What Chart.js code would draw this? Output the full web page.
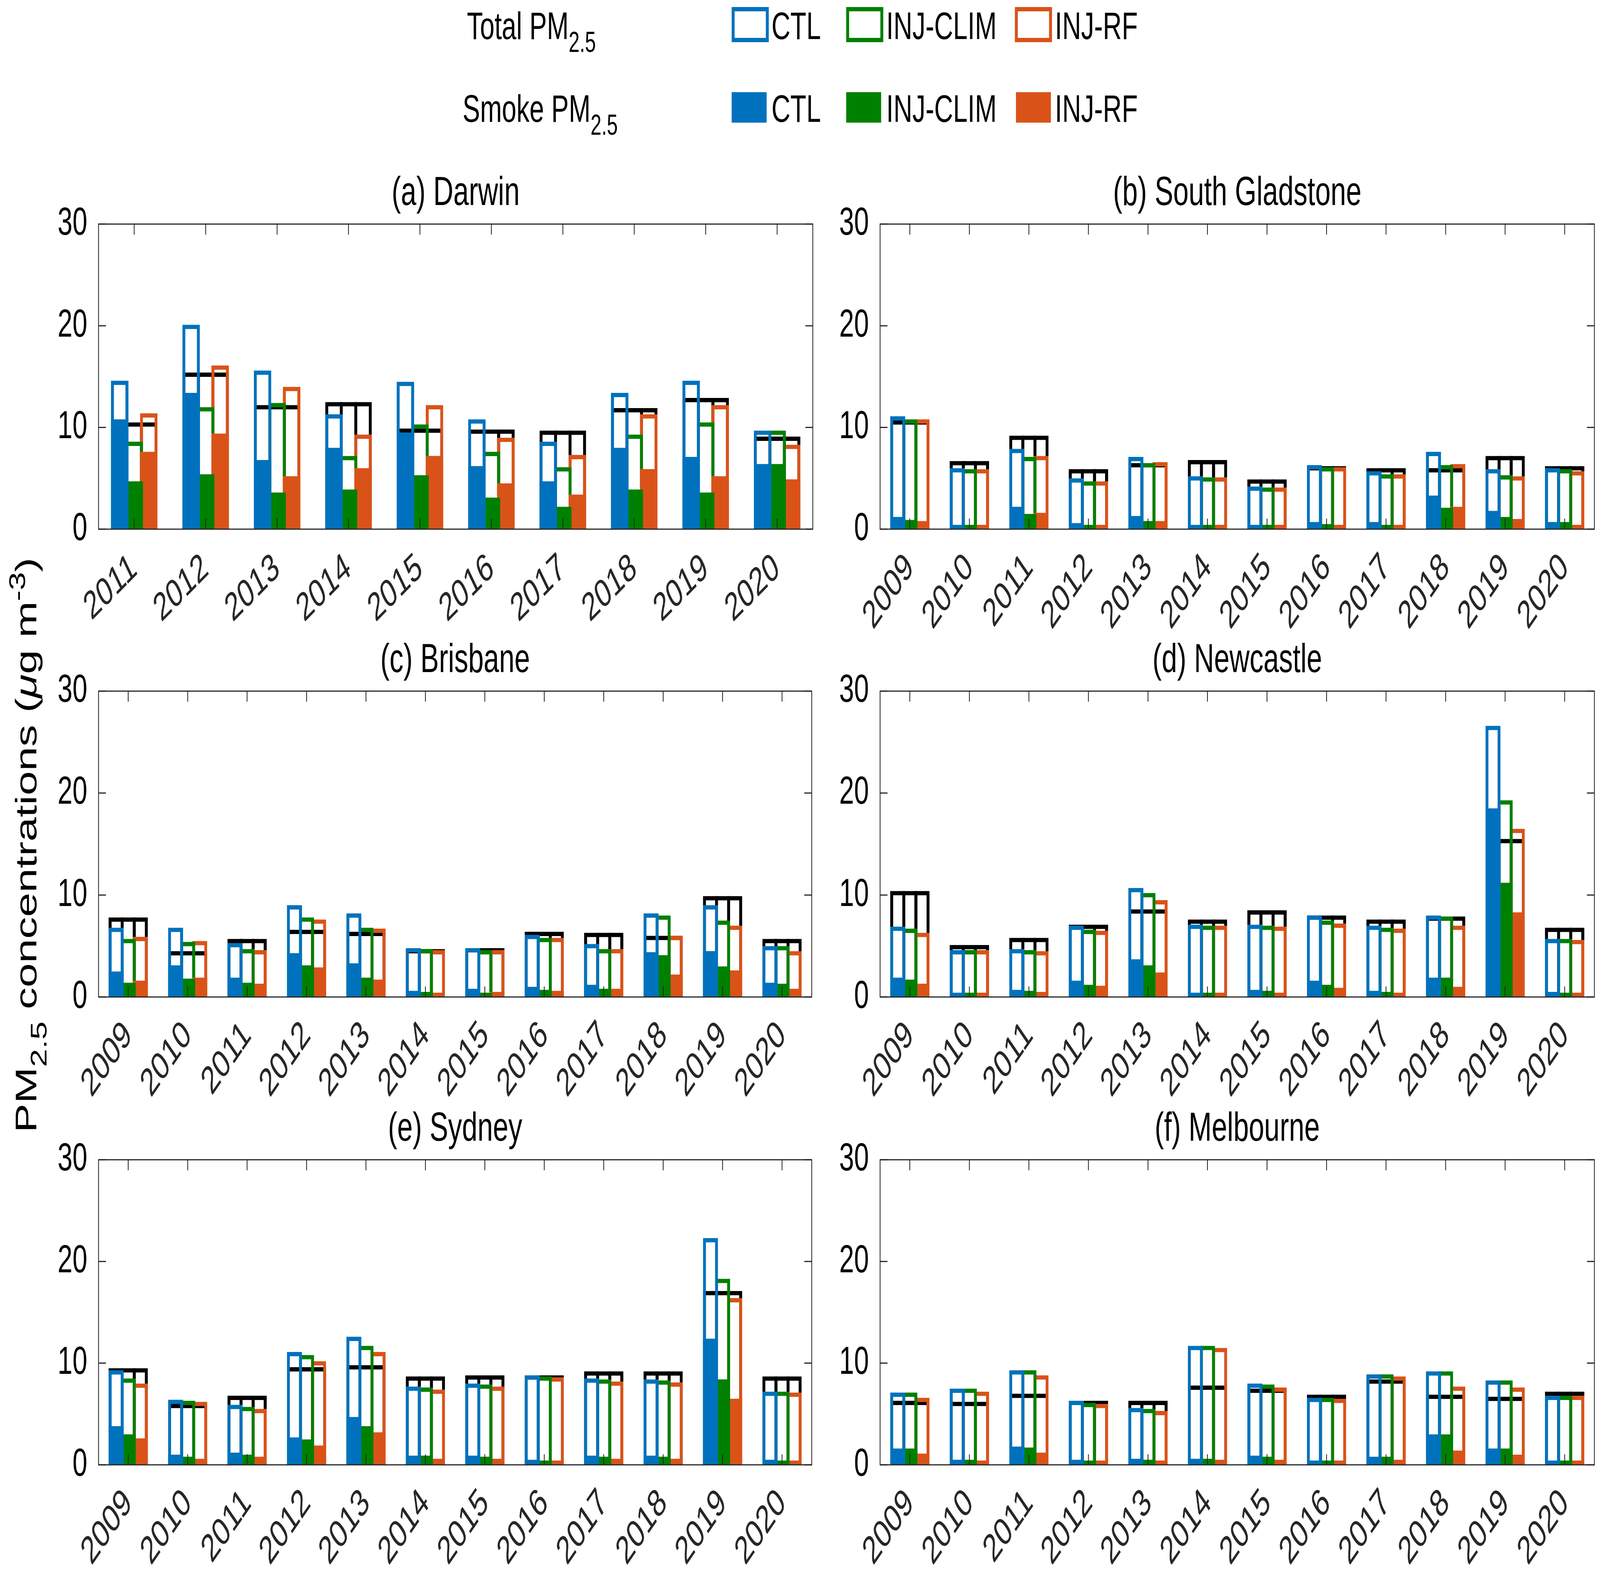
<!DOCTYPE html>
<html lang="en">
<head>
<meta charset="UTF-8">
<title>PM2.5 concentrations</title>
<script src="https://cdn.jsdelivr.net/npm/chart.js"></script>
<style>
  html, body { margin: 0; padding: 0; background: #fff; width: 100%; height: 100%; overflow: hidden; }
  body { font-family: 'Liberation Sans', Arial, sans-serif; color: #000; }
  #fig {
    position: absolute; left: 0; top: 0; width: 5994px; height: 4028px;
    transform-origin: 0 0; background: #fff;
  }
  .panel { position: absolute; }
  .lg-text { position: absolute; font-size: 98px; line-height: 98px; white-space: nowrap; }
  .sw { position: absolute; box-sizing: border-box; }
  .lo { width: 139px; height: 90px; border: 11px solid; background: #fff; }
  .lf { width: 131px; height: 78px; }
  .sub { font-size: 0.75em; position: relative; top: 0.45em; }
  .sup { font-size: 0.75em; position: relative; top: -0.5em; }
  #ylabel {
    position: absolute; left: 98px; top: 2164px; font-size: 112px; line-height: 1.2;
    white-space: nowrap; transform: translate(-50%, -50%) rotate(-90deg);
  }
</style>
</head>
<body>
<div id="fig">

<!-- Legend -->
<div class="lg-text" style="left:1749px; top:17px;">Total PM<span class="sub">2.5</span></div>
<div class="sw lo" style="left:2741px; top:18px; border-color:#0072BD;"></div>
<div class="lg-text" style="left:2890px; top:17px;">CTL</div>
<div class="sw lo" style="left:3170px; top:18px; border-color:#008000;"></div>
<div class="lg-text" style="left:3320px; top:17px;">INJ-CLIM</div>
<div class="sw lo" style="left:3802px; top:18px; border-color:#D95319;"></div>
<div class="lg-text" style="left:3952px; top:17px;">INJ-RF</div>

<div class="lg-text" style="left:1733px; top:229px;">Smoke PM<span class="sub">2.5</span></div>
<div class="sw lf" style="left:2741px; top:236px; background:#0072BD;"></div>
<div class="lg-text" style="left:2890px; top:229px;">CTL</div>
<div class="sw lf" style="left:3170px; top:236px; background:#008000;"></div>
<div class="lg-text" style="left:3320px; top:229px;">INJ-CLIM</div>
<div class="sw lf" style="left:3806px; top:236px; background:#D95319;"></div>
<div class="lg-text" style="left:3952px; top:229px;">INJ-RF</div>

<div id="ylabel">PM<span class="sub">2.5</span> concentrations (<i>μ</i>g m<span class="sup">-3</span>)</div>

</div>

<script>
// ---- data (annual mean PM2.5, ug m-3) ----
const yearsDarwin = ['2011', '2012', '2013', '2014', '2015', '2016', '2017', '2018', '2019', '2020'];
const yearsOther = ['2009', '2010', '2011', '2012', '2013', '2014', '2015', '2016', '2017', '2018', '2019', '2020'];

// (a) Darwin
const darwinObs      = [10.5, 15.4, 12.2, 12.5, 9.9, 9.8, 9.7, 11.9, 12.9, 9.1];
const darwinTotCtl   = [14.6, 20.1, 15.6, 11.3, 14.5, 10.8, 8.6, 13.4, 14.6, 9.7];
const darwinTotClim  = [8.6, 12.0, 12.4, 7.2, 10.3, 7.6, 6.1, 9.3, 10.5, 9.7];
const darwinTotRf    = [11.4, 16.1, 14.0, 9.3, 12.2, 9.0, 7.3, 11.3, 12.2, 8.3];
const darwinSmkCtl   = [10.8, 13.4, 6.8, 8.0, 9.5, 6.2, 4.7, 8.0, 7.1, 6.4];
const darwinSmkClim  = [4.7, 5.4, 3.6, 3.9, 5.3, 3.1, 2.2, 3.9, 3.6, 6.4];
const darwinSmkRf    = [7.6, 9.4, 5.2, 6.0, 7.2, 4.5, 3.4, 5.9, 5.2, 4.9];

// (b) South Gladstone
const gladObs     = [10.7, 6.7, 9.2, 5.9, 6.5, 6.8, 4.9, 6.2, 6.0, 6.0, 7.2, 6.2];
const gladTotCtl  = [11.1, 6.0, 7.9, 5.0, 7.1, 5.2, 4.2, 6.3, 5.7, 7.6, 5.9, 6.0];
const gladTotClim = [10.8, 5.9, 7.1, 4.7, 6.5, 5.1, 4.1, 6.1, 5.4, 6.3, 5.3, 5.9];
const gladTotRf   = [10.8, 5.9, 7.2, 4.7, 6.6, 5.1, 4.1, 6.1, 5.4, 6.4, 5.2, 5.7];
const gladSmkCtl  = [1.2, 0.2, 2.2, 0.6, 1.3, 0.2, 0.2, 0.7, 0.7, 3.3, 1.8, 0.7];
const gladSmkClim = [0.9, 0.3, 1.5, 0.4, 0.8, 0.2, 0.2, 0.5, 0.4, 2.1, 1.2, 0.7];
const gladSmkRf   = [0.8, 0.2, 1.6, 0.4, 0.8, 0.2, 0.2, 0.4, 0.4, 2.2, 1.0, 0.4];

// (c) Brisbane
const brisObs     = [7.8, 4.5, 5.7, 6.6, 6.4, 4.7, 4.8, 6.4, 6.3, 6.0, 9.9, 5.7];
const brisTotCtl  = [6.8, 6.8, 5.3, 9.0, 8.2, 4.8, 4.8, 6.1, 5.2, 8.2, 9.0, 5.0];
const brisTotClim = [5.7, 5.4, 4.7, 7.8, 6.8, 4.7, 4.6, 5.8, 4.7, 8.0, 7.5, 5.0];
const brisTotRf   = [5.9, 5.5, 4.6, 7.6, 6.7, 4.6, 4.6, 5.8, 4.7, 6.0, 7.0, 4.5];
const brisSmkCtl  = [2.5, 3.1, 1.9, 4.3, 3.3, 0.6, 0.8, 1.0, 1.2, 4.4, 4.5, 1.4];
const brisSmkClim = [1.4, 1.8, 1.4, 3.1, 1.9, 0.5, 0.4, 0.7, 0.8, 4.1, 3.0, 1.3];
const brisSmkRf   = [1.6, 1.9, 1.3, 2.9, 1.7, 0.4, 0.5, 0.6, 0.8, 2.2, 2.6, 0.8];

// (d) Newcastle
const newcObs     = [10.4, 5.1, 5.8, 7.1, 8.6, 7.6, 8.5, 8.0, 7.6, 7.9, 15.5, 6.8];
const newcTotCtl  = [6.9, 4.6, 4.7, 7.0, 10.7, 7.1, 7.1, 8.0, 7.0, 8.0, 26.6, 5.7];
const newcTotClim = [6.7, 4.6, 4.6, 6.6, 10.2, 7.0, 7.0, 7.5, 6.8, 7.9, 19.3, 5.7];
const newcTotRf   = [6.3, 4.6, 4.5, 6.5, 9.5, 7.0, 6.9, 7.2, 6.7, 7.0, 16.5, 5.6];
const newcSmkCtl  = [1.9, 0.3, 0.7, 1.6, 3.7, 0.4, 0.7, 1.6, 0.6, 1.9, 18.5, 0.5];
const newcSmkClim = [1.7, 0.3, 0.6, 1.2, 3.1, 0.3, 0.6, 1.2, 0.5, 1.9, 11.2, 0.4];
const newcSmkRf   = [1.3, 0.3, 0.5, 1.1, 2.4, 0.3, 0.4, 0.9, 0.4, 1.0, 8.3, 0.4];

// (e) Sydney
const sydObs     = [9.5, 6.0, 6.8, 9.6, 9.8, 8.7, 8.8, 8.8, 9.2, 9.2, 17.1, 8.7];
const sydTotCtl  = [9.3, 6.4, 5.9, 11.1, 12.6, 7.7, 8.0, 8.8, 8.5, 8.4, 22.3, 7.2];
const sydTotClim = [8.5, 6.3, 5.7, 10.8, 11.7, 7.6, 7.9, 8.7, 8.4, 8.3, 18.3, 7.2];
const sydTotRf   = [8.0, 6.2, 5.5, 10.2, 11.1, 7.4, 7.7, 8.6, 8.2, 8.1, 16.4, 7.1];
const sydSmkCtl  = [3.8, 1.0, 1.2, 2.7, 4.7, 0.9, 0.9, 0.5, 0.9, 0.9, 12.4, 0.5];
const sydSmkClim = [3.0, 0.8, 1.0, 2.5, 3.8, 0.9, 0.8, 0.4, 0.8, 0.8, 8.4, 0.4];
const sydSmkRf   = [2.6, 0.6, 0.8, 1.9, 3.2, 0.6, 0.6, 0.3, 0.6, 0.6, 6.5, 0.3];

// (f) Melbourne
const melbObs     = [6.3, 6.2, 7.0, 6.3, 6.3, 7.8, 7.5, 6.9, 8.4, 6.9, 6.7, 7.2];
const melbTotCtl  = [7.1, 7.5, 9.3, 6.3, 5.6, 11.7, 8.0, 6.6, 8.9, 9.2, 8.3, 6.8];
const melbTotClim = [7.1, 7.5, 9.3, 6.1, 5.5, 11.7, 7.9, 6.6, 8.9, 9.2, 8.3, 6.8];
const melbTotRf   = [6.6, 7.2, 8.8, 6.0, 5.3, 11.5, 7.6, 6.5, 8.7, 7.7, 7.6, 6.8];
const melbSmkCtl  = [1.6, 0.5, 1.8, 0.5, 0.6, 0.6, 0.9, 0.3, 0.8, 3.0, 1.6, 0.2];
const melbSmkClim = [1.6, 0.5, 1.7, 0.4, 0.5, 0.6, 0.8, 0.3, 0.8, 3.0, 1.6, 0.2];
const melbSmkRf   = [1.1, 0.3, 1.2, 0.3, 0.4, 0.5, 0.5, 0.2, 0.5, 1.4, 1.0, 0.2];

// ---- styling / layout ----
const BLUE = '#0072BD', GREEN = '#008000', ORANGE = '#D95319';
const FONT = "'Liberation Sans', Arial, sans-serif";
const LW = 11;          // bar edge width
const CAT_PCT = 0.61;   // share of each year slot used by the 3 bars
const YW = 250, TH = 140, XH = 270, RP = 10;
const FIG_W = 5994, FIG_H = 4028;

const panels = [
    { title: '(a) Darwin', years: yearsDarwin, obs: darwinObs,
      tot: [darwinTotCtl, darwinTotClim, darwinTotRf], smk: [darwinSmkCtl, darwinSmkClim, darwinSmkRf],
      L: 369, T: 574, W: 2676, H: 781, rot: 35 },
    { title: '(b) South Gladstone', years: yearsOther, obs: gladObs,
      tot: [gladTotCtl, gladTotClim, gladTotRf], smk: [gladSmkCtl, gladSmkClim, gladSmkRf],
      L: 3297, T: 574, W: 2680, H: 781, rot: 45 },
    { title: '(c) Brisbane', years: yearsOther, obs: brisObs,
      tot: [brisTotCtl, brisTotClim, brisTotRf], smk: [brisSmkCtl, brisSmkClim, brisSmkRf],
      L: 369, T: 1770, W: 2676, H: 783, rot: 45 },
    { title: '(d) Newcastle', years: yearsOther, obs: newcObs,
      tot: [newcTotCtl, newcTotClim, newcTotRf], smk: [newcSmkCtl, newcSmkClim, newcSmkRf],
      L: 3297, T: 1770, W: 2680, H: 783, rot: 45 },
    { title: '(e) Sydney', years: yearsOther, obs: sydObs,
      tot: [sydTotCtl, sydTotClim, sydTotRf], smk: [sydSmkCtl, sydSmkClim, sydSmkRf],
      L: 369, T: 2970, W: 2676, H: 781, rot: 45 },
    { title: '(f) Melbourne', years: yearsOther, obs: melbObs,
      tot: [melbTotCtl, melbTotClim, melbTotRf], smk: [melbSmkCtl, melbSmkClim, melbSmkRf],
      L: 3297, T: 2970, W: 2680, H: 781, rot: 45 },
];

// box around the axes with inward ticks, drawn over the bars like MATLAB does
const framePlugin = {
    id: 'frame',
    afterDatasetsDraw(chart) {
        const { ctx, chartArea: a, scales: { x, y } } = chart;
        ctx.save();
        ctx.strokeStyle = '#262626';
        ctx.lineWidth = 3;
        ctx.strokeRect(a.left, a.top, a.right - a.left, a.bottom - a.top);
        ctx.beginPath();
        x.ticks.forEach((t, i) => {
            const px = x.getPixelForTick(i);
            ctx.moveTo(px, a.top); ctx.lineTo(px, a.top + 27);
            ctx.moveTo(px, a.bottom); ctx.lineTo(px, a.bottom - 27);
        });
        y.ticks.forEach(t => {
            const py = y.getPixelForValue(t.value);
            ctx.moveTo(a.left, py); ctx.lineTo(a.left + 28, py);
            ctx.moveTo(a.right, py); ctx.lineTo(a.right - 28, py);
        });
        ctx.stroke();
        ctx.restore();
    }
};

const colors = [BLUE, GREEN, ORANGE];
const stacks = ['ctl', 'clim', 'rf'];
const names = ['CTL', 'INJ-CLIM', 'INJ-RF'];
const fig = document.getElementById('fig');

// the window may be smaller than the figure: fit the whole figure into it
function fitFigure() {
    const sx = window.innerWidth / FIG_W;
    const sy = window.innerHeight / FIG_H;
    if (Math.abs(sx - 1) > 0.002 || Math.abs(sy - 1) > 0.002) {
        fig.style.transform = `scale(${sx}, ${sy})`;
    } else {
        fig.style.transform = 'none';
    }
}
fitFigure();

panels.forEach(p => {
    const div = document.createElement('div');
    div.className = 'panel';
    div.style.left = (p.L - YW) + 'px';
    div.style.top = (p.T - TH) + 'px';
    div.style.width = (YW + p.W + RP) + 'px';
    div.style.height = (TH + p.H + XH) + 'px';
    const canvas = document.createElement('canvas');
    div.appendChild(canvas);
    fig.appendChild(div);

    // bars overlap by one edge width so neighbouring edges coincide
    const slot = p.W / p.years.length * CAT_PCT / 3;
    const barPct = (slot + LW) / slot;

    const datasets = [];
    // smoke PM2.5 (filled, on top)
    stacks.forEach((s, i) => datasets.push({
        label: 'Smoke ' + names[i], data: p.smk[i], stack: s, order: 0,
        backgroundColor: colors[i], borderWidth: 0
    }));
    // total PM2.5 (outlined)
    stacks.forEach((s, i) => datasets.push({
        label: 'Total ' + names[i], data: p.tot[i], stack: s, order: 1,
        backgroundColor: 'rgba(0,0,0,0)', borderColor: colors[i],
        borderWidth: LW, borderSkipped: false
    }));
    // observations (black outline behind each bar)
    stacks.forEach(s => datasets.push({
        label: 'Obs', data: p.obs, stack: s, order: 2,
        backgroundColor: 'rgba(0,0,0,0)', borderColor: '#000',
        borderWidth: LW, borderSkipped: false
    }));

    new Chart(canvas, {
        type: 'bar',
        data: { labels: p.years, datasets },
        options: {
            responsive: true,
            maintainAspectRatio: false,
            devicePixelRatio: 1,
            animation: false,
            categoryPercentage: CAT_PCT,
            barPercentage: barPct,
            layout: { padding: { left: 0, right: RP, top: 0, bottom: 0 } },
            plugins: {
                legend: { display: false },
                tooltip: { enabled: false },
                title: {
                    display: true, text: p.title, color: '#000', fullSize: false,
                    font: { family: FONT, size: 104, weight: 'normal' },
                    padding: { top: 0, bottom: 15 }
                }
            },
            scales: {
                x: {
                    type: 'category',
                    offset: true,
                    grid: { display: false, drawTicks: false },
                    border: { display: false },
                    ticks: {
                        autoSkip: false, maxRotation: p.rot, minRotation: p.rot,
                        color: '#262626', padding: 40,
                        font: { family: FONT, size: 100 }
                    },
                    afterFit: s => { s.height = XH; }
                },
                y: {
                    min: 0, max: 30, stacked: false,
                    grid: { display: false, drawTicks: false },
                    border: { display: false },
                    ticks: {
                        stepSize: 10, color: '#000', padding: 42,
                        font: { family: FONT, size: 100 }
                    },
                    afterFit: s => { s.width = YW; }
                }
            }
        },
        plugins: [framePlugin]
    });
});
</script>
</body>
</html>
